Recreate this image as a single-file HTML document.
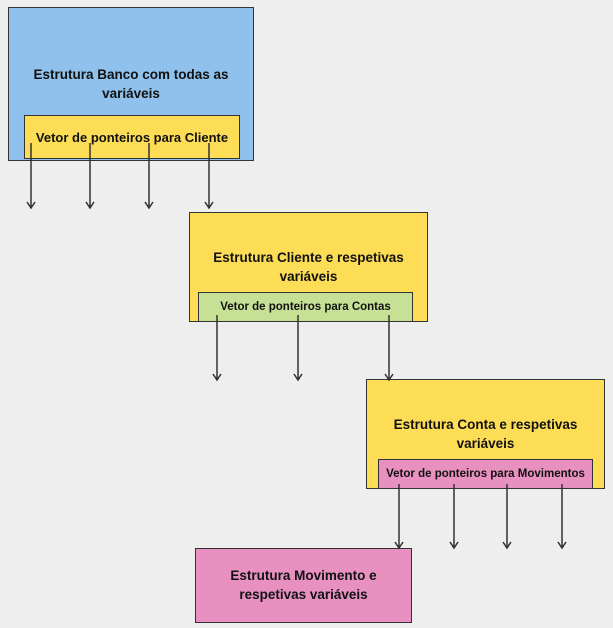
<!DOCTYPE html>
<html><head><style>
body{margin:0;width:613px;height:628px;background:#eeeeee;position:relative;overflow:hidden;font-family:"Liberation Sans",sans-serif;font-weight:bold;color:#111}
.b{position:absolute;box-sizing:border-box;border:1.5px solid #333;display:flex;align-items:center;justify-content:center;text-align:center}
.t{position:absolute;text-align:center;font-size:13.5px;line-height:19px}
</style></head><body>
<div class="b" style="left:8px;top:7px;width:246px;height:154px;background:#8fc1ec"></div>
<div class="t" style="left:20px;top:65px;width:222px">Estrutura Banco com todas as variáveis</div>
<div class="b" style="left:24px;top:115px;width:216px;height:44px;background:#fddd55;font-size:13px">Vetor de ponteiros para Cliente</div>

<div class="b" style="left:189px;top:212px;width:239px;height:110px;background:#fddd55"></div>
<div class="t" style="left:195px;top:248px;width:227px">Estrutura Cliente e respetivas variáveis</div>
<div class="b" style="left:198px;top:292px;width:215px;height:30px;background:#c6e095;font-size:11.5px">Vetor de ponteiros para Contas</div>

<div class="b" style="left:366px;top:379px;width:239px;height:110px;background:#fddd55"></div>
<div class="t" style="left:372px;top:415px;width:227px">Estrutura Conta e respetivas variáveis</div>
<div class="b" style="left:378px;top:459px;width:215px;height:30px;background:#e891c0;font-size:11.5px">Vetor de ponteiros para Movimentos</div>

<div class="b" style="left:195px;top:548px;width:217px;height:75px;background:#e891c0"></div>
<div class="t" style="left:200px;top:566px;width:207px">Estrutura Movimento e respetivas variáveis</div>

<svg width="613" height="628" style="position:absolute;left:0;top:0">
<g stroke="#333" stroke-width="1.5" fill="none">
<path d="M31 143V208M27 202L31 208L35 202"/>
<path d="M90 143V208M86 202L90 208L94 202"/>
<path d="M149 143V208M145 202L149 208L153 202"/>
<path d="M209 143V208M205 202L209 208L213 202"/>
<path d="M217 315V380M213 374L217 380L221 374"/>
<path d="M298 315V380M294 374L298 380L302 374"/>
<path d="M389 315V380M385 374L389 380L393 374"/>
<path d="M399 484V548M395 542L399 548L403 542"/>
<path d="M454 484V548M450 542L454 548L458 542"/>
<path d="M507 484V548M503 542L507 548L511 542"/>
<path d="M562 484V548M558 542L562 548L566 542"/>
</g></svg>
</body></html>
